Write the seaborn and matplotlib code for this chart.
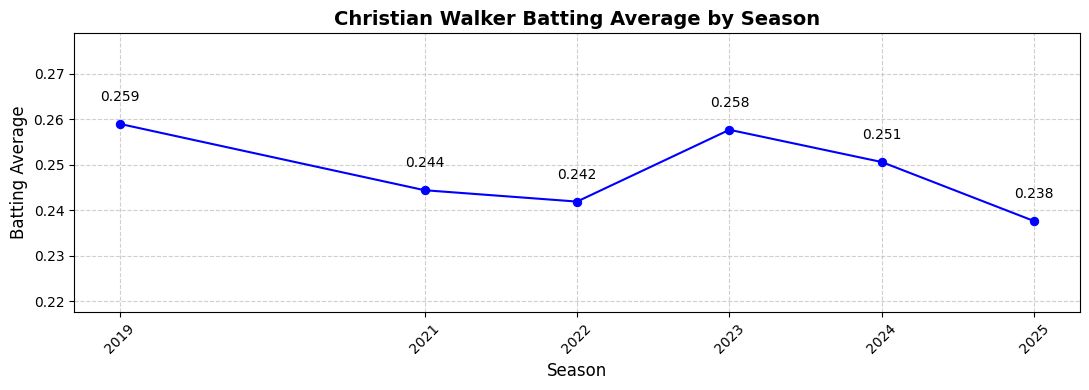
import pandas as pd
import seaborn as sns
import matplotlib.pyplot as plt

# Data
seasons = [2019, 2021, 2022, 2023, 2024, 2025]
batting_avg = [0.259, 0.2444, 0.2419, 0.2577, 0.2506, 0.2376]
labels = ['0.259', '0.244', '0.242', '0.258', '0.251', '0.238']

df = pd.DataFrame({'Season': seasons, 'AVG': batting_avg})

fig, ax = plt.subplots(figsize=(10.89, 3.9), dpi=100)
sns.lineplot(x='Season', y='AVG', data=df, ax=ax, color='blue', marker='o',
             markersize=6, markeredgecolor='blue', linewidth=1.5)

# value labels above points
for s, v, t in zip(seasons, batting_avg, labels):
    ax.annotate(t, (s, v), textcoords='offset points', xytext=(0, 16.5),
                ha='center', fontsize=10)

ax.set_title('Christian Walker Batting Average by Season', fontsize=14, fontweight='bold')
ax.set_xlabel('Season', fontsize=12)
ax.set_ylabel('Batting Average', fontsize=12)
ax.set_xticks(seasons)
ax.set_xticklabels([str(s) for s in seasons], rotation=45)
ax.set_ylim(min(batting_avg) - 0.02, max(batting_avg) + 0.02)
ax.grid(True, linestyle='--', alpha=0.6)

plt.subplots_adjust(left=0.068, right=0.9917, top=0.9154, bottom=0.2)
plt.savefig('out.png', dpi=100)
